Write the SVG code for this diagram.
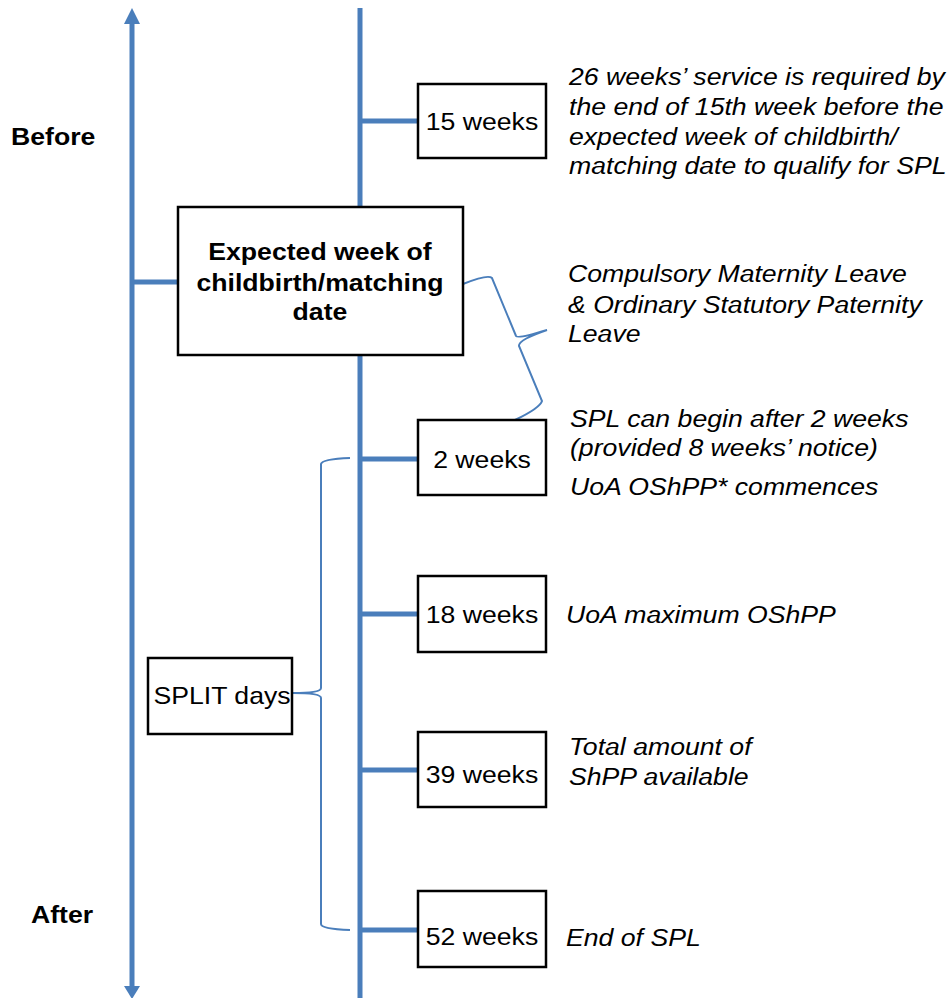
<svg xmlns="http://www.w3.org/2000/svg" width="951" height="998" viewBox="0 0 951 998">
<style>
.axis{stroke:#4A7EBB;stroke-width:5;fill:none}
.tick{stroke:#4A7EBB;stroke-width:5;fill:none}
.brace{stroke:#4A7EBB;stroke-width:2;fill:none}
.box{fill:#fff;stroke:#000;stroke-width:2.5}
.t{font-family:"Liberation Sans",Arial,sans-serif;font-size:24px;fill:#000}
.it{font-style:italic}
.b{font-weight:bold}
.c{text-anchor:middle}
</style>
<rect width="951" height="998" fill="#fff"/>
<g id="connectors">
<line class="axis" x1="132" y1="22" x2="132" y2="986"/>
<polygon points="132,8 124,24 140,24" fill="#4A7EBB"/>
<polygon points="132,999 124,986 140,986" fill="#4A7EBB"/>
<line class="axis" x1="360" y1="8" x2="360" y2="998"/>
<line class="tick" x1="132" y1="282" x2="178" y2="282"/>
<line class="tick" x1="360" y1="121" x2="418" y2="121"/>
<line class="tick" x1="360" y1="459" x2="418" y2="459"/>
<line class="tick" x1="360" y1="614" x2="418" y2="614"/>
<line class="tick" x1="360" y1="770" x2="418" y2="770"/>
<line class="tick" x1="360" y1="930" x2="418" y2="930"/>
<path class="brace" d="M350,458 Q322,459 321,464 L321,688 Q321,693 293,693 Q321,693 321,698 L321,924 Q321,929 350,930"/>
<path class="brace" d="M463,284 Q488,274 492,278 L516,336 Q518,339 547,330 Q518,340 519,346 L542,401 Q540,408 515,420"/>
</g>
<g id="before" transform="matrix(1.11,0,0,1,-1.21,0)"><text class="t b" x="11" y="145">Before</text></g>
<g id="after" transform="matrix(1.11,0,0,1,-3.41,0)"><text class="t b" x="31" y="923">After</text></g>
<g id="n15">
<rect class="box" x="418" y="84" width="128" height="74"/>
<text class="t c" x="482" y="130" transform="matrix(1.11,0,0,1,-53.02,0)">15 weeks</text>
</g>
<g id="note15" transform="matrix(1.11,0,0,1,-62.59,0)">
<text class="t it" x="569" y="85">26 weeks’ service is required by</text>
<text class="t it" x="569" y="115">the end of 15th week before the</text>
<text class="t it" x="569" y="145">expected week of childbirth/</text>
<text class="t it" x="569" y="174">matching date to qualify for SPL</text>
</g>
<g id="expected">
<rect class="box" x="178" y="207" width="285" height="148"/>
<g transform="matrix(1.11,0,0,1,-35.2,0)">
<text class="t b c" x="320" y="260">Expected week of</text>
<text class="t b c" x="320" y="291">childbirth/matching</text>
<text class="t b c" x="320" y="320">date</text>
</g>
</g>
<g id="noteCML" transform="matrix(1.11,0,0,1,-62.48,0)">
<text class="t it" x="568" y="282">Compulsory Maternity Leave</text>
<text class="t it" x="568" y="313">&amp; Ordinary Statutory Paternity</text>
<text class="t it" x="568" y="342">Leave</text>
</g>
<g id="n2">
<rect class="box" x="418" y="420" width="128" height="75"/>
<text class="t c" x="482" y="468" transform="matrix(1.11,0,0,1,-53.02,0)">2 weeks</text>
</g>
<g id="note2" transform="matrix(1.11,0,0,1,-62.7,0)">
<text class="t it" x="570" y="427">SPL can begin after 2 weeks</text>
<text class="t it" x="570" y="456">(provided 8 weeks’ notice)</text>
<text class="t it" x="570" y="495">UoA OShPP* commences</text>
</g>
<g id="n18">
<rect class="box" x="418" y="576" width="128" height="76"/>
<text class="t c" x="482" y="623" transform="matrix(1.11,0,0,1,-53.02,0)">18 weeks</text>
</g>
<g id="note18" transform="matrix(1.11,0,0,1,-62.26,0)"><text class="t it" x="566" y="623">UoA maximum OShPP</text></g>
<g id="split">
<rect class="box" x="148" y="658" width="144" height="76"/>
<text class="t c" x="222" y="704" transform="matrix(1.11,0,0,1,-24.42,0)">SPLIT days</text>
</g>
<g id="n39">
<rect class="box" x="418" y="732" width="128" height="75"/>
<text class="t c" x="482" y="783" transform="matrix(1.11,0,0,1,-53.02,0)">39 weeks</text>
</g>
<g id="note39" transform="matrix(1.11,0,0,1,-62.59,0)">
<text class="t it" x="569" y="755">Total amount of</text>
<text class="t it" x="569" y="785">ShPP available</text>
</g>
<g id="n52">
<rect class="box" x="418" y="891" width="128" height="76"/>
<text class="t c" x="482" y="945" transform="matrix(1.11,0,0,1,-53.02,0)">52 weeks</text>
</g>
<g id="note52" transform="matrix(1.11,0,0,1,-62.26,0)"><text class="t it" x="566" y="946">End of SPL</text></g>
</svg>
